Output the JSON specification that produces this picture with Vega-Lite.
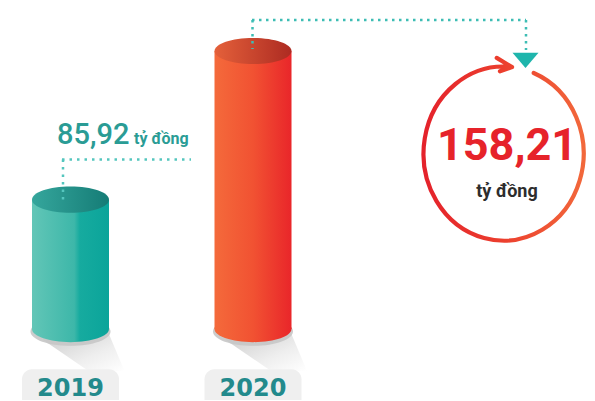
{
  "$schema": "https://vega.github.io/schema/vega-lite/v6.json",
  "width": 595,
  "height": 401,
  "autosize": {"type": "fit", "contains": "padding"},
  "padding": 0,
  "background": "#ffffff",
  "config": {"view": {"stroke": null}, "axis": {"disable": true}, "legend": {"disable": true}},
  "data": {"values": [
    {"year": "2019", "value": 85.92, "label": "85,92"},
    {"year": "2020", "value": 158.21, "label": "158,21"}
  ]},
  "resolve": {"scale": {"x": "independent", "y": "independent"}},
  "layer": [
    {
      "encoding": {"x": {"field": "year", "type": "ordinal", "scale": {"type": "point", "range": [70.5, 253], "padding": 0}, "axis": null}},
      "layer": [
        {
          "mark": {"type": "point", "filled": true, "opacity": 0.9, "strokeWidth": 0, "size": 6400,
            "shape": "M-0.7,0.26 L0.95,0.1 L1.35,1.05 L0.45,1.05 Z",
            "fill": {"gradient": "linear", "x1": 0, "y1": 0, "x2": 1, "y2": 1, "stops": [{"offset": 0, "color": "#c4c4c4"}, {"offset": 0.6, "color": "#ececec"}, {"offset": 1, "color": "#ffffff"}]}},
          "encoding": {"y": {"datum": 23, "type": "quantitative", "scale": {"domain": [-11.5, 183], "zero": false, "nice": false}, "axis": null}}
        },
        {
          "mark": {"type": "point", "filled": true, "opacity": 0.9, "strokeWidth": 0, "size": 6400, "color": "#c6c6c6",
            "shape": "M-1,0.06 A1,0.36 0 1,0 1,0.06 A1,0.36 0 1,0 -1,0.06 Z"},
          "encoding": {"y": {"datum": 23, "type": "quantitative", "scale": {"domain": [-11.5, 183], "zero": false, "nice": false}, "axis": null}}
        },
        {
          "transform": [{"filter": "datum.year == '2019'"}],
          "mark": {"type": "point", "filled": true, "opacity": 1, "strokeWidth": 0, "size": 5929,
            "shape": "M-1,0 A1,0.34 0 1,0 1,0 A1,0.34 0 1,0 -1,0 Z",
            "fill": {"gradient": "linear", "x1": 0, "y1": 0, "x2": 1, "y2": 0, "stops": [{"offset": 0, "color": "#62c6b7"}, {"offset": 0.55, "color": "#3db7a9"}, {"offset": 0.62, "color": "#16ab9f"}, {"offset": 1, "color": "#0ba49a"}]}},
          "encoding": {"y": {"datum": 23, "type": "quantitative", "scale": {"domain": [-11.5, 183], "zero": false, "nice": false}, "axis": null}}
        },
        {
          "transform": [{"filter": "datum.year == '2020'"}],
          "mark": {"type": "point", "filled": true, "opacity": 1, "strokeWidth": 0, "size": 5929,
            "shape": "M-1,0 A1,0.34 0 1,0 1,0 A1,0.34 0 1,0 -1,0 Z",
            "fill": {"gradient": "linear", "x1": 0, "y1": 0, "x2": 1, "y2": 0, "stops": [{"offset": 0, "color": "#f46a3b"}, {"offset": 0.5, "color": "#f15232"}, {"offset": 1, "color": "#e9262a"}]}},
          "encoding": {"y": {"datum": 23, "type": "quantitative", "scale": {"domain": [-11.5, 183], "zero": false, "nice": false}, "axis": null}}
        },
        {
          "transform": [{"filter": "datum.year == '2019'"}],
          "mark": {"type": "bar", "width": 77,
            "fill": {"gradient": "linear", "x1": 0, "y1": 0, "x2": 1, "y2": 0, "stops": [{"offset": 0, "color": "#62c6b7"}, {"offset": 0.55, "color": "#3db7a9"}, {"offset": 0.62, "color": "#16ab9f"}, {"offset": 1, "color": "#0ba49a"}]}},
          "encoding": {
            "y": {"field": "value", "type": "quantitative", "scale": {"domain": [-11.5, 183], "zero": false, "nice": false}, "axis": null},
            "y2": {"datum": 23}
          }
        },
        {
          "transform": [{"filter": "datum.year == '2020'"}],
          "mark": {"type": "bar", "width": 77,
            "fill": {"gradient": "linear", "x1": 0, "y1": 0, "x2": 1, "y2": 0, "stops": [{"offset": 0, "color": "#f46a3b"}, {"offset": 0.5, "color": "#f15232"}, {"offset": 1, "color": "#e9262a"}]}},
          "encoding": {
            "y": {"field": "value", "type": "quantitative", "scale": {"domain": [-11.5, 183], "zero": false, "nice": false}, "axis": null},
            "y2": {"datum": 23}
          }
        },
        {
          "transform": [{"filter": "datum.year == '2019'"}],
          "mark": {"type": "point", "filled": true, "opacity": 1, "strokeWidth": 0, "size": 5929,
            "shape": "M-1,0 A1,0.34 0 1,0 1,0 A1,0.34 0 1,0 -1,0 Z",
            "fill": {"gradient": "linear", "x1": 0, "y1": 0, "x2": 1, "y2": 0, "stops": [{"offset": 0, "color": "#35a69c"}, {"offset": 1, "color": "#157c76"}]}},
          "encoding": {"y": {"field": "value", "type": "quantitative", "scale": {"domain": [-11.5, 183], "zero": false, "nice": false}, "axis": null}}
        },
        {
          "transform": [{"filter": "datum.year == '2020'"}],
          "mark": {"type": "point", "filled": true, "opacity": 1, "strokeWidth": 0, "size": 5929,
            "shape": "M-1,0 A1,0.34 0 1,0 1,0 A1,0.34 0 1,0 -1,0 Z",
            "fill": {"gradient": "linear", "x1": 0, "y1": 0, "x2": 1, "y2": 0, "stops": [{"offset": 0, "color": "#e4603a"}, {"offset": 1, "color": "#ad2b22"}]}},
          "encoding": {"y": {"field": "value", "type": "quantitative", "scale": {"domain": [-11.5, 183], "zero": false, "nice": false}, "axis": null}}
        },
        {
          "mark": {"type": "bar", "width": 97, "color": "#efefef", "cornerRadiusTopLeft": 10, "cornerRadiusTopRight": 10},
          "encoding": {
            "y": {"datum": 3.5, "type": "quantitative", "scale": {"domain": [-11.5, 183], "zero": false, "nice": false}, "axis": null},
            "y2": {"datum": -11.5}
          }
        },
        {
          "mark": {"type": "text", "font": "DejaVu Sans", "fontWeight": "bold", "fontSize": 24, "color": "#238a8c", "align": "center", "baseline": "alphabetic"},
          "encoding": {
            "y": {"datum": -9.5, "type": "quantitative", "scale": {"domain": [-11.5, 183], "zero": false, "nice": false}, "axis": null},
            "text": {"field": "year"}
          }
        }
      ]
    },
    {
      "layer": [
        {
          "transform": [{"filter": "datum.year == '2019'"}],
          "mark": {"type": "rule", "color": "#55c6be", "strokeWidth": 2.5, "strokeDash": [2.5, 5]},
          "encoding": {
            "x": {"datum": 62, "type": "quantitative", "scale": {"domain": [0, 595], "zero": false, "nice": false}, "axis": null},
            "x2": {"datum": 191},
            "y": {"datum": 160, "type": "quantitative", "scale": {"domain": [0, 401], "reverse": true, "zero": false, "nice": false}, "axis": null}
          }
        },
        {
          "transform": [{"filter": "datum.year == '2019'"}],
          "mark": {"type": "rule", "color": "#55c6be", "strokeWidth": 2.5, "strokeDash": [2.5, 5]},
          "encoding": {
            "x": {"datum": 63, "type": "quantitative"},
            "y": {"datum": 160, "type": "quantitative"},
            "y2": {"datum": 205}
          }
        },
        {
          "transform": [{"filter": "datum.year == '2020'"}],
          "mark": {"type": "rule", "color": "#3dbdb4", "strokeWidth": 2.5, "strokeDash": [2.5, 4.5]},
          "encoding": {
            "x": {"datum": 252, "type": "quantitative"},
            "x2": {"datum": 526},
            "y": {"datum": 20, "type": "quantitative"}
          }
        },
        {
          "transform": [{"filter": "datum.year == '2020'"}],
          "mark": {"type": "rule", "color": "#3dbdb4", "strokeWidth": 2.5, "strokeDash": [2.5, 4.5]},
          "encoding": {
            "x": {"datum": 252.5, "type": "quantitative"},
            "y": {"datum": 20, "type": "quantitative"},
            "y2": {"datum": 49}
          }
        },
        {
          "transform": [{"filter": "datum.year == '2020'"}],
          "mark": {"type": "rule", "color": "#3dbdb4", "strokeWidth": 2.5, "strokeDash": [2.5, 4.5]},
          "encoding": {
            "x": {"datum": 526, "type": "quantitative"},
            "y": {"datum": 20, "type": "quantitative"},
            "y2": {"datum": 50}
          }
        },
        {
          "transform": [{"filter": "datum.year == '2020'"}],
          "mark": {"type": "point", "filled": true, "opacity": 1, "strokeWidth": 0, "size": 676, "color": "#1fb5ac",
            "shape": "M-1,-0.58 L1,-0.58 L0,0.58 Z"},
          "encoding": {
            "x": {"datum": 525.5, "type": "quantitative"},
            "y": {"datum": 60.5, "type": "quantitative"}
          }
        },
        {
          "transform": [{"filter": "datum.year == '2020'"}],
          "mark": {"type": "point", "filled": false, "opacity": 1, "strokeWidth": 4.2, "size": 30276, "strokeCap": "round", "strokeJoin": "round",
            "shape": "M0.345,-0.927 A0.92,1 0 1,1 0.096,-0.995 M-0.08,-1.1 L0.096,-0.995 L-0.043,-0.946",
            "stroke": {"gradient": "linear", "x1": 0, "y1": 0, "x2": 1, "y2": 0, "stops": [{"offset": 0, "color": "#e4222b"}, {"offset": 0.5, "color": "#ec3f2e"}, {"offset": 1, "color": "#f2683b"}]}},
          "encoding": {
            "x": {"datum": 503.7, "type": "quantitative"},
            "y": {"datum": 154, "type": "quantitative"}
          }
        },
        {
          "transform": [{"filter": "datum.year == '2020'"}],
          "mark": {"type": "text", "font": "Roboto", "fontWeight": "bold", "fontSize": 45, "color": "#e6232a", "align": "center", "baseline": "alphabetic"},
          "encoding": {
            "x": {"datum": 507, "type": "quantitative"},
            "y": {"datum": 160, "type": "quantitative"},
            "text": {"field": "label"}
          }
        },
        {
          "transform": [{"filter": "datum.year == '2020'"}],
          "mark": {"type": "text", "font": "Roboto", "fontWeight": "bold", "fontSize": 18, "color": "#2d2d2d", "align": "center", "baseline": "alphabetic", "text": "tỷ đồng"},
          "encoding": {
            "x": {"datum": 507, "type": "quantitative"},
            "y": {"datum": 197, "type": "quantitative"}
          }
        },
        {
          "transform": [{"filter": "datum.year == '2019'"}],
          "mark": {"type": "text", "font": "Roboto", "fontWeight": 500, "fontSize": 29, "color": "#2a9c95", "align": "left", "baseline": "alphabetic"},
          "encoding": {
            "x": {"datum": 57, "type": "quantitative"},
            "y": {"datum": 144, "type": "quantitative"},
            "text": {"field": "label"}
          }
        },
        {
          "transform": [{"filter": "datum.year == '2019'"}],
          "mark": {"type": "text", "font": "Roboto", "fontWeight": "bold", "fontSize": 16, "color": "#2a9c95", "align": "left", "baseline": "alphabetic", "text": "tỷ đồng"},
          "encoding": {
            "x": {"datum": 134, "type": "quantitative"},
            "y": {"datum": 144, "type": "quantitative"}
          }
        }
      ]
    }
  ]
}
